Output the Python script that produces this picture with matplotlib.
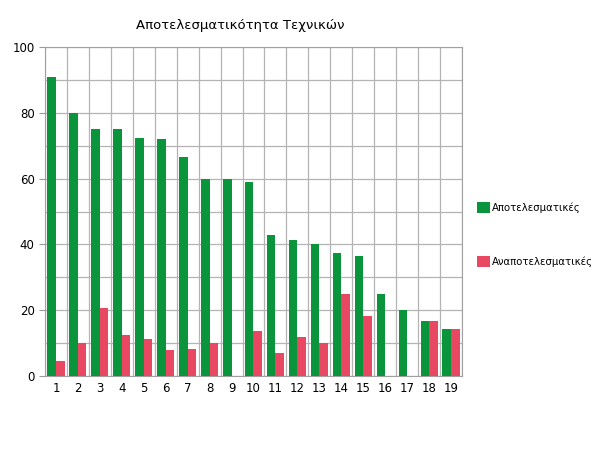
import numpy as np
import matplotlib.pyplot as plt

# δεδομένα
texnikoi = [str(i) for i in range(1, 20)]
apotelesmatikes = [91, 80, 75, 75, 72.4, 72, 66.7, 60, 60, 59, 42.9, 41.3, 40.1, 37.4, 36.5, 25, 20, 16.7, 14.3]
anapotelesmatikes = [4.5, 10, 20.7, 12.5, 11.2, 7.9, 8.3, 10, 0, 13.6, 7, 11.8, 10, 25, 18.2, 0, 0, 16.7, 14.3]

green = "#0a943c"
red = "#e84862"

fig = plt.figure(figsize=(6, 4.63), dpi=100)
ax = fig.add_axes([0.075, 0.188, 0.695, 0.71])

x = np.arange(len(texnikoi))
w = 0.39
ax.bar(x - w / 2, apotelesmatikes, w, color=green, label="Αποτελεσματικές", zorder=3)
ax.bar(x + w / 2, anapotelesmatikes, w, color=red, label="Αναποτελεσματικές", zorder=3)

ax.set_xlim(-0.5, len(texnikoi) - 0.5)
ax.set_ylim(0, 100)
ax.set_xticks(x)
ax.set_xticklabels(texnikoi, fontsize=8.5)
ax.set_xticks(np.arange(-0.5, len(texnikoi)), minor=True)
ax.set_yticks(range(0, 101, 20))
ax.set_yticks(range(0, 101, 10), minor=True)
ax.tick_params(axis="y", labelsize=8.5, length=4, color="#999999")
ax.tick_params(axis="y", which="minor", length=0)
ax.tick_params(axis="x", length=0, which="both", pad=4)
ax.grid(True, axis="y", which="both", color="#b4b4b4", linewidth=0.9, zorder=0)
ax.grid(True, axis="x", which="minor", color="#b4b4b4", linewidth=0.9, zorder=0)
ax.grid(False, axis="x", which="major")
for s in ax.spines.values():
    s.set_color("#a0a0a0")

ax.set_title("Αποτελεσματικότητα Τεχνικών", fontsize=9.5, pad=13, x=0.469)

ax.legend(loc="center left", bbox_to_anchor=(1.036, 0.43), frameon=False, fontsize=7.3,
          labelspacing=4.2, handlelength=1.3, handleheight=1.3, handletextpad=0.15,
          borderpad=0, borderaxespad=0)

fig.savefig("out.png", dpi=100)
